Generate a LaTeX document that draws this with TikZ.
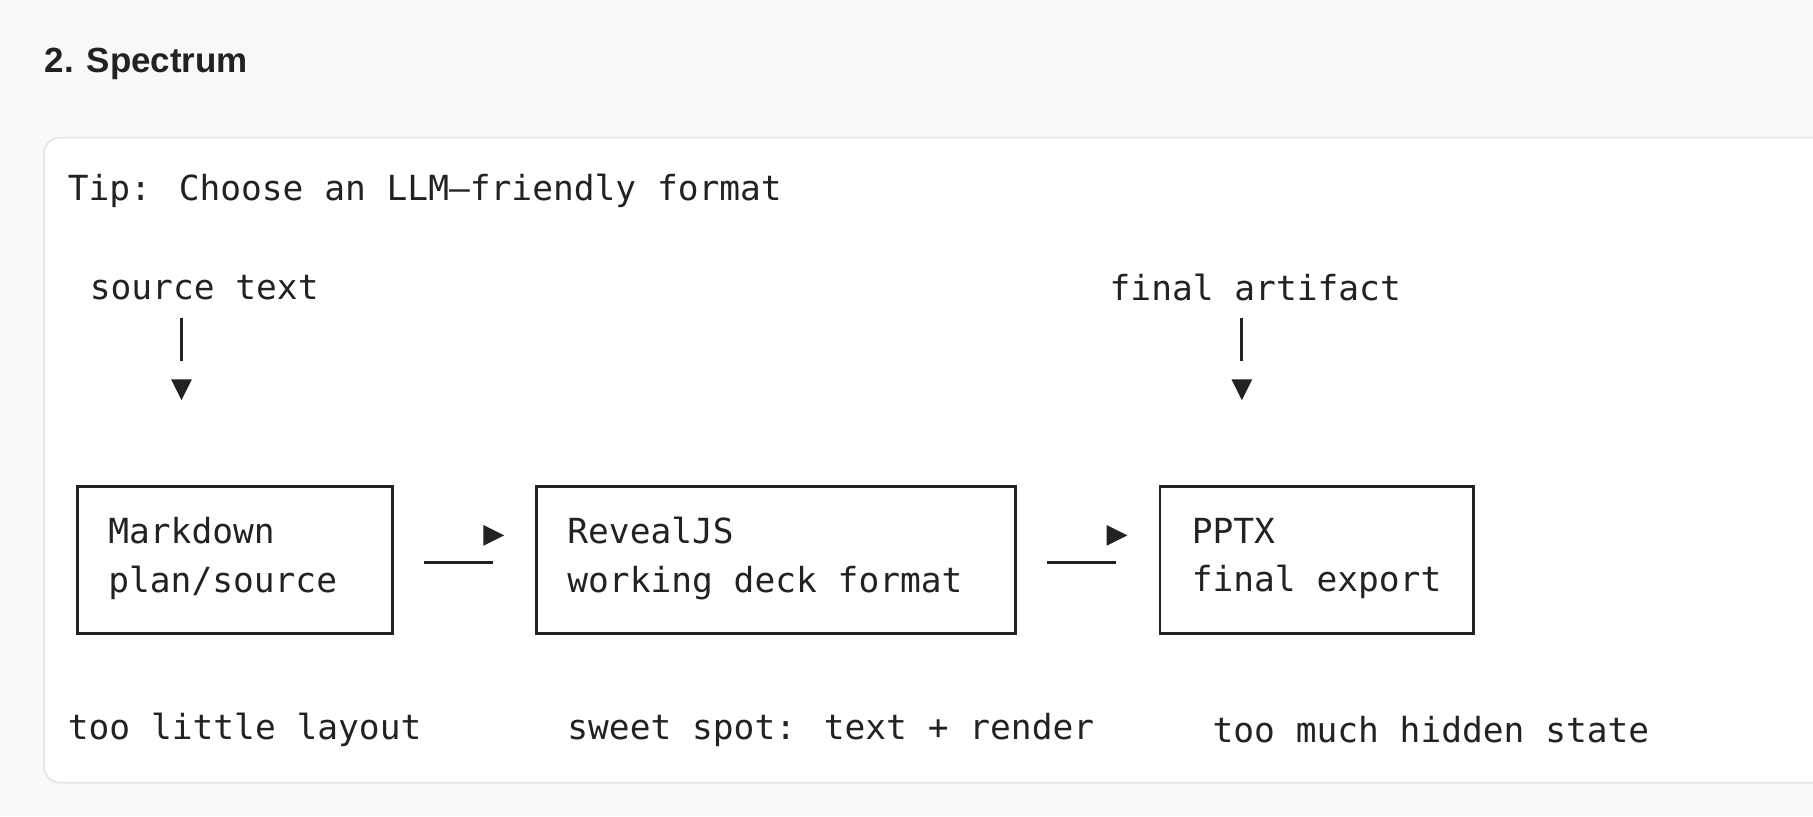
\documentclass[tikz,border=0pt]{standalone}
\usepackage{fontspec}
\setmainfont{Liberation Sans}
\newfontfamily\codefont{DejaVu Sans Mono}
\usetikzlibrary{positioning}
\definecolor{pagebg}{HTML}{F8F9FB}
\definecolor{cardline}{HTML}{E3E5E8}
\definecolor{ink}{HTML}{222222}
\tikzset{
	code/.style= {
		anchor=west,
		inner sep=0pt,
		text=ink,
		font=\codefont\fontsize{8.5pt}{12pt}\selectfont,
		align=left
	},
	stage/.style= {
		draw=ink,
		line width=0.7pt,
		minimum height=1.27cm,
		anchor=west
	},
	flow/.style= {
		draw=ink,
		line width=0.7pt
	},
	tip/.style= {
		fill=ink
	}
}
\begin{document}
\begin{tikzpicture}[x=1cm,y=1cm]
	\fill[pagebg] (0,0) rectangle (15.68,-7.06);
	\useasboundingbox (0,0) rectangle (15.68,-7.06);
	\draw[cardline, fill=white, rounded corners=4pt] (0.38,-1.19) rectangle (16.2,-6.77);
	
	\node(title)[anchor=west, inner sep=0pt, text=ink, font=\bfseries\fontsize{8.6pt}{10pt}\selectfont] at (0.38,-0.55) {2. Spectrum};
	\node(tiptext)[code] at (0.58,-1.65) {Tip: Choose an LLM–friendly format};
	
	\node(source)[code] at (0.77,-2.49) {source text};
	\node(final)[code] at (9.59,-2.49) {final artifact};
	
	% stages
	\node(markdown)[stage, minimum width=2.72cm] at (0.66,-4.845) {};
	\node(reveal)[stage, minimum width=4.14cm] at (4.63,-4.845) {};
	\node(pptx)[stage, minimum width=2.71cm] at (10.02,-4.845) {};
	\node(mdtext)[code] at (0.93,-4.83) {Markdown\\plan/source};
	\node(rvtext)[code] at (4.90,-4.83) {RevealJS\\working deck format};
	\node(pptext)[code] at (10.30,-4.83) {PPTX\\final export};
	
	% downward arrows
	\coordinate(srcend) at (1.57,-3.12);
	\coordinate(finend) at (10.74,-3.12);
	\draw[flow](1.57,-2.75) to (srcend);
	\draw[flow](10.74,-2.75) to (finend);
	\fill[tip](1.48,-3.28) -- (1.66,-3.28) -- (1.57,-3.46) -- cycle;
	\fill[tip](10.65,-3.28) -- (10.83,-3.28) -- (10.74,-3.46) -- cycle;
	
	% sideways arrows
	\draw[flow](markdown.east) ++(0.26,-0.02) coordinate(a1) -- ++(0.6,0);
	\fill[tip](4.18,-4.54) -- (4.36,-4.63) -- (4.18,-4.72) -- cycle;
	\draw[flow](reveal.east) ++(0.26,-0.02) coordinate(a2) -- ++(0.6,0);
	\fill[tip](9.57,-4.54) -- (9.75,-4.63) -- (9.57,-4.72) -- cycle;
	
	\node(little)[code] at (0.58,-6.31) {too little layout};
	\node(sweet)[code] at (4.90,-6.31) {sweet spot: text + render};
	\node(much)[code] at (10.48,-6.31) {too much hidden state};
\end{tikzpicture}
\end{document}
